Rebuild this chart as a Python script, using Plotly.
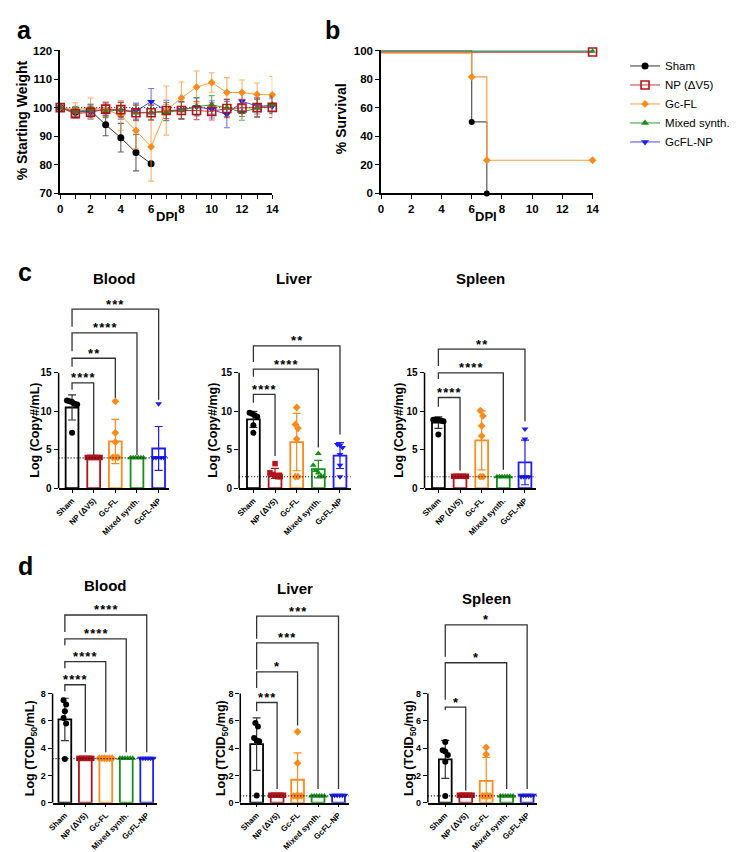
import numpy as np
import plotly.graph_objects as go

W, H = 750, 852
FONT = "Liberation Sans"

groups = ["Sham", "NP (ΔV5)", "Gc-FL", "Mixed synth.", "GcFL-NP"]
colors = ["#000000", "#b3131b", "#ff8a1c", "#15901a", "#1c1cff"]
line_colors = ["#333333", "#c83a3a", "#ff9c3c", "#2e9e30", "#4646ff"]
err_colors = ["rgba(60,60,60,0.8)", "rgba(200,40,40,0.7)", "rgba(255,150,50,0.75)",
              "rgba(30,150,40,0.7)", "rgba(60,60,255,0.7)"]
a_symbols = ["circle", "square-open", "diamond", "triangle-up", "triangle-down"]
bar_symbols = ["circle", "square", "diamond", "triangle-up", "triangle-down"]

# ---- a: % starting weight (mean, SD) ----
dpi = list(range(15))
weight = [
    [100, 98.4, 99.0, 94.0, 89.5, 84.3, 80.4],
    [100, 97.9, 98.4, 99.5, 99.3, 98.2, 98.2, 99.0, 99.0, 99.0, 98.7, 99.7, 99.9, 100.0, 100.1],
    [100, 99.3, 99.8, 99.4, 97.3, 92.0, 86.3, 99.0, 103.4, 107.2, 108.8, 105.3, 105.3, 104.6, 104.5],
    [100, 98.6, 99.4, 98.7, 99.3, 98.2, 98.4, 98.4, 99.0, 100.4, 101.0, 99.9, 98.4, 99.9, 101.1],
    [100, 98.5, 98.6, 99.4, 99.0, 98.8, 102.1, 99.0, 99.2, 100.3, 99.4, 97.6, 102.2, 100.6, 100.5],
]
weight_sd = [
    [0, 1.5, 1.6, 3.8, 5.0, 6.4, 0],
    [0, 1.5, 1.8, 2.4, 2.6, 2.8, 2.6, 2.8, 3.0, 3.2, 3.0, 3.2, 3.0, 3.4, 3.6],
    [0, 2.4, 3.6, 2.6, 5.2, 6.4, 12.0, 8.6, 5.6, 5.6, 3.4, 5.2, 4.4, 4.0, 6.4],
    [0, 1.6, 1.8, 2.2, 2.4, 2.6, 2.6, 2.8, 3.0, 3.0, 3.2, 3.0, 2.8, 3.0, 3.0],
    [0, 1.8, 2.6, 2.2, 3.0, 2.8, 4.6, 3.6, 3.0, 3.2, 3.0, 4.6, 3.2, 2.8, 2.6],
]

# ---- b: survival ----
surv_days = [[0, 6, 7], [0, 14], [0, 6, 7, 14], [0, 14], [0, 14]]
surv_pct = [[100, 50, 0], [100, 100], [100, 83.3, 25, 25], [100, 100], [100, 100]]
surv_nudge = [0, -1.1, -1.8, -0.5, 0.4]   # Prism-style offset so lines stay visible

# ---- c: viral copies, log ----
copies_blood = [[11.4, 11.3, 11.2, 11.0, 10.9, 7.2], [4.0, 4.0, 4.0, 4.0, 4.0, 4.0],
                [11.3, 7.2, 6.0, 4.0, 4.0, 4.0], [3.95, 3.95, 3.95, 3.95, 3.95, 3.95],
                [11.0, 4.0, 4.0, 4.0, 4.0, 4.0]]
copies_liver = [[9.8, 9.7, 9.5, 9.3, 8.2, 7.2], [3.2, 2.0, 1.8, 1.6, 1.5, 1.5],
                [10.5, 8.3, 7.8, 6.4, 1.5, 1.5], [4.5, 3.0, 2.3, 2.0, 1.6, 1.5],
                [5.7, 5.6, 5.3, 4.4, 3.0, 1.5]]
copies_spleen = [[8.9, 8.9, 8.9, 8.8, 8.7, 7.0], [1.55, 1.55, 1.55, 1.55, 1.55, 1.55],
                 [10.1, 9.4, 8.1, 6.8, 1.5, 1.5], [1.5, 1.5, 1.5, 1.5, 1.5, 1.5],
                 [7.7, 6.4, 1.5, 1.5, 1.5, 1.5]]
copies_lod = [3.95, 1.5, 1.5]

# ---- d: TCID50, log ----
tcid_blood = [[7.5, 7.2, 6.7, 6.2, 5.8, 3.2], [3.25, 3.25, 3.25, 3.25, 3.25, 3.25],
              [3.25, 3.25, 3.25, 3.25, 3.25, 3.25], [3.25, 3.25, 3.25, 3.25, 3.25, 3.25],
              [3.25, 3.25, 3.25, 3.25, 3.25, 3.25]]
tcid_liver = [[5.84, 5.58, 4.74, 4.55, 4.5, 0.53], [0.55, 0.55, 0.55, 0.55, 0.55, 0.55],
              [5.2, 2.9, 0.5, 0.5, 0.5, 0.5], [0.5, 0.5, 0.5, 0.5, 0.5, 0.5],
              [0.55, 0.55, 0.55, 0.55, 0.55, 0.55]]
tcid_spleen = [[4.45, 3.85, 3.75, 3.5, 3.0, 0.5], [0.55, 0.55, 0.55, 0.55, 0.55, 0.55],
               [4.05, 3.55, 0.5, 0.5, 0.5, 0.5], [0.5, 0.5, 0.5, 0.5, 0.5, 0.5],
               [0.55, 0.55, 0.55, 0.55, 0.55, 0.55]]
tcid_lod = [3.23, 0.5, 0.5]

# significance: (target group, stars), bracket (top, left foot, right foot)
sig_copies_blood = [(1, "****"), (2, "**"), (3, "****"), (4, "***")]
brk_copies_blood = [(13.7, 12.8, 4.3), (16.9, 15.8, 11.75), (20.2, 17.8, 4.3), (23.3, 21.0, 11.5)]
sig_copies_liver = [(1, "****"), (3, "****"), (4, "**")]
brk_copies_liver = [(12.2, 11.1, 4.2), (15.5, 14.5, 5.3), (18.5, 16.4, 7.0)]
sig_copies_spleen = [(1, "****"), (3, "****"), (4, "**")]
brk_copies_spleen = [(11.8, 10.6, 2.3), (15.0, 14.2, 2.4), (18.1, 15.9, 8.7)]
sig_tcid_blood = [(1, "****"), (2, "****"), (3, "****"), (4, "****")]
brk_tcid_blood = [(8.64, 8.16, 3.7), (10.33, 9.85, 3.7), (12.0, 11.53, 3.7), (13.75, 12.5, 3.7)]
sig_tcid_liver = [(1, "***"), (2, "*"), (3, "***"), (4, "***")]
brk_tcid_liver = [(7.34, 6.7, 1.0), (9.58, 8.4, 5.65), (11.7, 9.75, 1.0), (13.67, 12.0, 1.0)]
sig_tcid_spleen = [(1, "*"), (3, "*"), (4, "*")]
brk_tcid_spleen = [(7.0, 6.8, 0.9), (10.25, 7.55, 1.0), (13.03, 10.7, 1.0)]


def xp(px):
    return px / W


def yp(px):
    return 1 - px / H


def spread(vals, tol, step):
    # simple beeswarm: points close in value are spread sideways
    offs = [0.0] * len(vals)
    order = sorted(range(len(vals)), key=lambda k: -vals[k])
    clusters = []
    for k in order:
        if clusters and abs(vals[clusters[-1][-1]] - vals[k]) <= tol:
            clusters[-1].append(k)
        else:
            clusters.append([k])
    for cl in clusters:
        n = len(cl)
        for j, k in enumerate(cl):
            offs[k] = (j - (n - 1) / 2) * step
    return offs


tickfont = dict(family=FONT, size=11.5, color="black", weight="bold")
common = dict(showgrid=False, zeroline=False, ticks="outside", tickcolor="black",
              tickwidth=1.3, ticklen=4, linecolor="black", linewidth=1.5)

fig = go.Figure()
shapes, annos = [], []

# ---------- panel a ----------
a_order = [0, 4, 2, 3, 1]
for i in a_order:
    n = len(weight[i])
    mk = dict(symbol=a_symbols[i], color=colors[i], size=7)
    if i == 1:
        mk = dict(symbol="square-open", color=colors[i], size=8, line=dict(width=1.6))
    if i == 2:
        mk["size"] = 6
    fig.add_trace(go.Scatter(
        x=dpi[:n], y=weight[i], name=groups[i], legendrank=i + 1,
        xaxis="x", yaxis="y", mode="lines+markers",
        line=dict(color=line_colors[i], width=1), marker=mk,
        error_y=dict(type="data", array=weight_sd[i], color=err_colors[i], thickness=1.1, width=3),
        cliponaxis=False))
shapes.append(dict(type="line", xref="x", yref="y", x0=0, x1=14, y0=100, y1=100,
                   line=dict(color="black", width=1, dash="1px,2px"), layer="below"))

# ---------- panel b ----------
for i in [0, 1, 3, 4, 2]:
    ys = [v + surv_nudge[i] for v in surv_pct[i]]
    fig.add_trace(go.Scatter(
        x=surv_days[i], y=ys, xaxis="x2", yaxis="y2", mode="lines",
        line=dict(color=line_colors[i] if i else "#555555", width=1.2, shape="hv"),
        showlegend=False, cliponaxis=False))
for i in [0, 1, 3, 4, 2]:
    ys = [v + surv_nudge[i] for v in surv_pct[i]]
    mk = dict(symbol=bar_symbols[i], color=colors[i], size=6)
    if i == 1:
        mk = dict(symbol="square-open", color=colors[i], size=8, line=dict(width=1.6))
    fig.add_trace(go.Scatter(
        x=surv_days[i][1:], y=ys[1:], xaxis="x2", yaxis="y2", mode="markers",
        marker=mk, showlegend=False, cliponaxis=False))

minor_ticks = dict(dtick=1, tick0=0, ticks="outside", ticklen=4, tickwidth=1.3, tickcolor="black")
layout_axes = {
    "xaxis": dict(common, domain=[xp(48), xp(263.5)], range=[0, 14], anchor="y", showline=True,
                  tickvals=list(range(0, 15, 2)), minor=minor_ticks, tickfont=tickfont),
    "yaxis": dict(common, domain=[yp(182), yp(37)], range=[70, 120], anchor="x", showline=True,
                  tickvals=[70, 80, 90, 100, 110, 120], tickfont=tickfont),
    "xaxis2": dict(common, domain=[xp(374), xp(589)], range=[0, 14], anchor="y2", showline=True,
                   tickvals=list(range(0, 15, 2)), tickfont=tickfont),
    "yaxis2": dict(common, domain=[yp(182), yp(37)], range=[0, 100], anchor="x2", showline=True,
                   tickvals=[0, 20, 40, 60, 80, 100], tickfont=tickfont),
}

bold = dict(family=FONT, color="black", weight="bold")
annos += [
    dict(text="a", x=xp(12), y=yp(16), font=dict(bold, size=25)),
    dict(text="b", x=xp(325), y=yp(16), font=dict(bold, size=25)),
    dict(text="c", x=xp(12), y=yp(262), font=dict(bold, size=25)),
    dict(text="d", x=xp(13), y=yp(560), font=dict(bold, size=25)),
    dict(text="% Starting Weight", x=xp(10), y=yp(108), textangle=-90, font=dict(bold, size=14)),
    dict(text="% Survival", x=xp(333), y=yp(106), textangle=-90, font=dict(bold, size=14)),
    dict(text="DPI", x=xp(156), y=yp(205), font=dict(bold, size=13)),
    dict(text="DPI", x=xp(481), y=yp(205), font=dict(bold, size=13)),
]

# ---------- panels c and d ----------
bar_panels = [
    # data, lod, sig, brackets, title, ytitle, first bar px, left offset, spacing, zero px,
    # px/unit, top, ytick top, ytick font, title pos, ytitle pos
    (copies_blood, copies_lod[0], sig_copies_blood, brk_copies_blood, "Blood", "Log (Copy#/mL)",
     60, 0.62, 22, 481, 7.8, 26, 15, 10, (103, 268), (22, 422)),
    (copies_liver, copies_lod[1], sig_copies_liver, brk_copies_liver, "Liver", "Log (Copy#/mg)",
     244.3, 0.66, 22, 481, 7.8, 26, 15, 10, (286, 268), (203, 422)),
    (copies_spleen, copies_lod[2], sig_copies_spleen, brk_copies_spleen, "Spleen", "Log (Copy#/mg)",
     432.3, 0.64, 22, 481, 7.8, 26, 15, 10, (475, 268), (392, 422)),
    (tcid_blood, tcid_lod[0], sig_tcid_blood, brk_tcid_blood, "Blood", "Log (TCID<sub>50</sub>/mL)",
     52.7, 0.6, 20.8, 800, 13.85, 15, 8, 9, (94, 580), (18, 745)),
    (tcid_liver, tcid_lod[1], sig_tcid_liver, brk_tcid_liver, "Liver", "Log (TCID<sub>50</sub>/mg)",
     247.6, 0.8, 20.8, 800, 13.85, 15, 8, 9, (287, 583), (212, 745)),
    (tcid_spleen, tcid_lod[2], sig_tcid_spleen, brk_tcid_spleen, "Spleen", "Log (TCID<sub>50</sub>/mg)",
     439.3, 0.85, 20.8, 800, 13.85, 15, 8, 9, (481, 593), (403, 745)),
]

for p, (data, lod, sig, brk, title, ytitle, x0px, loff, sp, zero, ppu, top, ytop, yfs, tpos, ypos) in enumerate(bar_panels):
    n = p + 3
    xa, ya = f"x{n}", f"y{n}"
    layout_axes[f"xaxis{n}"] = dict(
        common, domain=[xp(x0px - loff * sp), xp(x0px + 4.5 * sp)], range=[-loff, 4.5],
        anchor=ya, showline=True, tickvals=[0, 1, 2, 3, 4], ticktext=groups, tickangle=-45,
        ticklen=3, tickfont=dict(bold, size=8))
    layout_axes[f"yaxis{n}"] = dict(
        common, domain=[yp(zero), yp(zero - top * ppu)], range=[0, top], anchor=xa,
        showline=False, tickvals=list(range(0, ytop + 1, 2 if ytop == 8 else 5)),
        tickfont=dict(bold, size=yfs))
    shapes.append(dict(type="line", xref=f"{xa} domain", yref=ya, x0=0, x1=0, y0=0, y1=ytop,
                       line=dict(color="black", width=1.5)))

    bw = 13 / sp
    for i, vals in enumerate(data):
        m = float(np.mean(vals))
        sd = float(np.std(vals, ddof=1))
        fig.add_trace(go.Bar(
            x=[i], y=[m], width=bw, xaxis=xa, yaxis=ya, showlegend=False,
            marker=dict(color="white", line=dict(color=colors[i], width=1.8)),
            error_y=dict(type="data", array=[sd], visible=sd > 0.01,
                         color=colors[i] if i else "#333333", thickness=1.2, width=4)))
    for i, vals in enumerate(data):
        offs = spread(vals, 6 / ppu, 2.6 / sp)
        fig.add_trace(go.Scatter(
            x=[i + o for o in offs], y=vals, xaxis=xa, yaxis=ya, mode="markers", showlegend=False,
            marker=dict(symbol=bar_symbols[i], color=colors[i], size=6 if i != 1 else 5.5),
            cliponaxis=False))

    shapes.append(dict(type="line", xref=f"{xa} domain", yref=ya, x0=0, x1=1, y0=lod, y1=lod,
                       line=dict(color="black", width=1.1, dash="1px,2px")))
    for (tgt, stars), (tp, lb, rb) in zip(sig, brk):
        shapes.append(dict(type="path", xref=xa, yref=ya,
                           path=f"M 0,{lb} L 0,{tp} L {tgt},{tp} L {tgt},{rb}",
                           line=dict(color="#333333", width=1.3)))
        annos.append(dict(text="\u200a".join(stars), xref=xa, yref=ya, x=tgt / 2, y=tp,
                          yanchor="middle", yshift=5, font=dict(bold, size=13)))

    annos.append(dict(text=title, x=xp(tpos[0]), y=yp(tpos[1]), font=dict(bold, size=15)))
    annos.append(dict(text=ytitle, x=xp(ypos[0]), y=yp(ypos[1]), textangle=-90,
                      font=dict(bold, size=12.5)))

for a in annos:
    a.setdefault("xref", "paper")
    a.setdefault("yref", "paper")
    a.setdefault("showarrow", False)
    a.setdefault("xanchor", "center")
    a.setdefault("yanchor", "middle")

fig.update_layout(
    width=W, height=H, margin=dict(l=0, r=0, t=0, b=0),
    plot_bgcolor="white", paper_bgcolor="white", barmode="overlay",
    font=dict(family=FONT, color="black"),
    shapes=shapes, annotations=annos,
    legend=dict(x=xp(622), y=yp(38), xanchor="left", yanchor="top",
                font=dict(family=FONT, size=11.5, color="black"),
                bgcolor="rgba(0,0,0,0)", tracegroupgap=0),
    **layout_axes,
)

fig.write_html("out.html")
